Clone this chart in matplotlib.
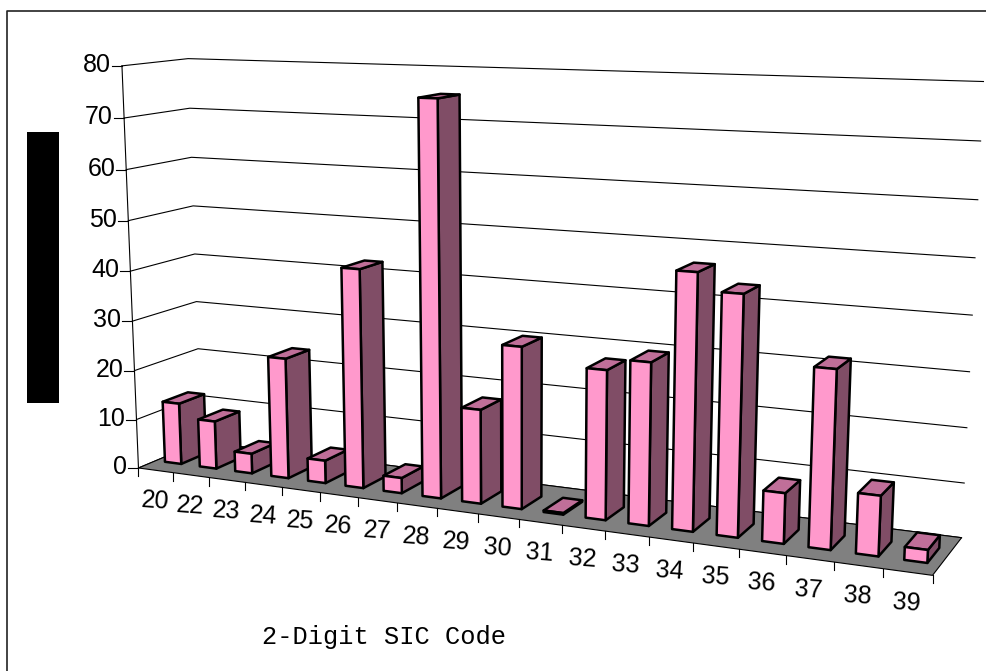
import numpy as np
import matplotlib
matplotlib.use("Agg")
import matplotlib.pyplot as plt
from matplotlib.patches import Rectangle

# Data
codes = ["20", "22", "23", "24", "25", "26", "27", "28", "29", "30",
         "31", "32", "33", "34", "35", "36", "37", "38", "39"]
values = [12.5, 9.7, 4, 24, 4.5, 42.8, 3, 75.4, 18.1, 30.8,
          0.3, 28, 30.2, 47, 43.8, 9.2, 32.1, 10.8, 2.3]
y_ticks = [0, 10, 20, 30, 40, 50, 60, 70, 80]

n = len(codes)
y_max = 80

# Calibration of the fake 3D box: (slot, value, depth) -> pixel
box_3d = [(0, 0, 0), (0, y_max, 0), (0, 0, 1), (0, y_max, 1),
          (n, 0, 1), (n, y_max, 1), (n, 0, 0), (n, y_max, 0), (7, 0, 0), (16, 0, 0)]
box_px = [(137, 467), (123, 65), (203, 443), (187, 59),
          (963, 538), (981, 79), (932, 575), (957, 95), (397, 503), (785, 555)]

rows, rhs = [], []
for (u, v, d), (px, py) in zip(box_3d, box_px):
    rows.append([u, v, d, 1, 0, 0, 0, 0, -px * u, -px * v, -px * d])
    rhs.append(px)
    rows.append([0, 0, 0, 0, u, v, d, 1, -py * u, -py * v, -py * d])
    rhs.append(py)
m = np.linalg.lstsq(np.array(rows, float), np.array(rhs, float), rcond=None)[0]
P = np.append(m, 1).reshape(3, 4)


def proj(u, v, d):
    p = P @ np.array([u, v, d, 1.0])
    return p[0] / p[2], p[1] / p[2]


fig = plt.figure(figsize=(9.86, 6.71), dpi=100)
ax = fig.add_axes([0, 0, 1, 1])
ax.set_xlim(0, 986)
ax.set_ylim(671, 0)
ax.axis("off")

# Frame (only left and top show) and the blacked out y title
ax.plot([6.5, 6.5, 986], [671, 11, 11], color="#222222", lw=1.2, zorder=1)
ax.add_patch(Rectangle((27, 132), 32, 271, fc="black", ec="none"))

# Gridlines on side wall and back wall
for t in y_ticks:
    pts = [proj(0, t, 0), proj(0, t, 1), proj(n, t, 1)]
    ax.plot(*zip(*pts), color="black", lw=0.8, zorder=1)
    x0, y0 = proj(0, t, 0)
    ax.plot([x0 - 10, x0], [y0, y0], color="black", lw=0.8, zorder=1)
    ax.text(x0 - 11, y0 - 1, str(t), ha="right", va="center", fontsize=18,
            family="Liberation Sans")
ax.plot(*zip(proj(0, 0, 0), proj(0, y_max, 0)), color="black", lw=0.8, zorder=1)

# Floor
floor = [proj(0, 0, 0), proj(n, 0, 0), proj(n, 0, 1), proj(0, 0, 1)]
ax.fill(*zip(*floor), fc="#808080", ec="black", lw=0.8, zorder=2)

# X ticks and labels
for i in range(n + 1):
    x0, y0 = proj(i, 0, 0)
    ax.plot([x0, x0], [y0, y0 + 8], color="black", lw=0.8, zorder=2)
for i, c in enumerate(codes):
    x0, y0 = proj(i + 0.5, 0, 0)
    ax.text(x0 - 1, y0 + 31, c, ha="center", va="center", fontsize=18, rotation=-4,
            family="Liberation Sans")

# Bars, left to right so later ones sit on top
bar_w = 0.235
d0, d1 = 0.27, 0.67
for i, val in enumerate(values):
    u0, u1 = i + 0.495 - bar_w, i + 0.495 + bar_w
    front = [proj(u0, 0, d0), proj(u1, 0, d0), proj(u1, val, d0), proj(u0, val, d0)]
    side = [proj(u1, 0, d0), proj(u1, 0, d1), proj(u1, val, d1), proj(u1, val, d0)]
    top = [proj(u0, val, d0), proj(u1, val, d0), proj(u1, val, d1), proj(u0, val, d1)]
    z = 3 + i * 0.1
    ax.fill(*zip(*side), fc="#804D66", ec="black", lw=1.8, joinstyle="round", zorder=z)
    ax.fill(*zip(*top), fc="#C06F99", ec="black", lw=1.8, joinstyle="round", zorder=z)
    ax.fill(*zip(*front), fc="#FF99CC", ec="black", lw=1.8, joinstyle="round", zorder=z)

ax.text(384, 637, "2-Digit SIC Code", ha="center", va="center", fontsize=18.3,
        family="Liberation Mono")

fig.savefig("out.png", dpi=100)
